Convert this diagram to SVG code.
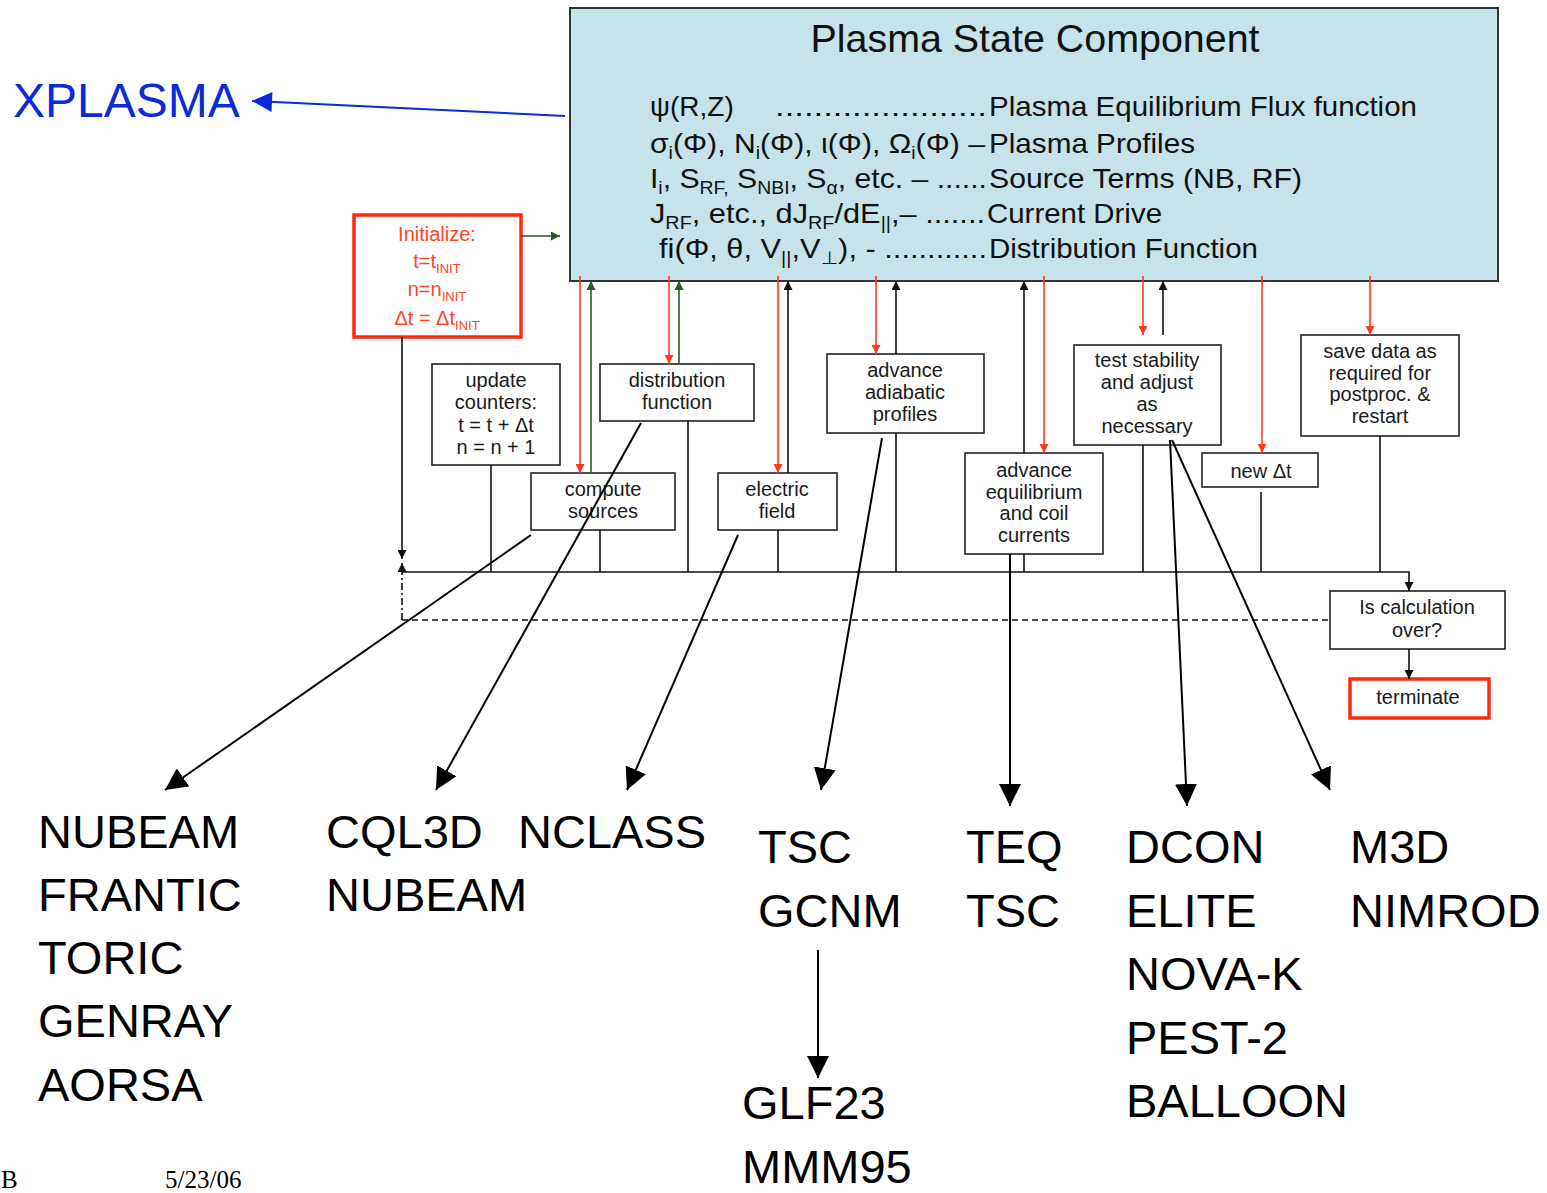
<svg xmlns="http://www.w3.org/2000/svg" width="1547" height="1193" viewBox="0 0 1547 1193">
<style>
.box{fill:#fff;stroke:#222;stroke-width:1.6}
.rbox{fill:#fff;stroke:#ff2a10;stroke-width:3.5}
.t{font-family:"Liberation Sans",Arial,sans-serif;font-size:20px;fill:#1a1a1a;text-anchor:middle}
.rt{font-family:"Liberation Sans",Arial,sans-serif;font-size:20px;fill:#ff4422;text-anchor:middle}
.m{font-family:"Liberation Sans",Arial,sans-serif;font-size:28px;fill:#111}
.title{font-family:"Liberation Sans",Arial,sans-serif;font-size:39px;fill:#111;text-anchor:middle}
.big{font-family:"Liberation Sans",Arial,sans-serif;font-size:47px;fill:#000}
.red{stroke:#ff3b1f;stroke-width:1.6;fill:none}
.grn{stroke:#1f5f1f;stroke-width:1.6;fill:none}
.blk{stroke:#111;stroke-width:1.6;fill:none}
.diag{stroke:#000;stroke-width:2;fill:none}
</style>
<defs>
<marker id="ar" viewBox="0 0 10 10" refX="10" refY="5" markerWidth="9" markerHeight="9" orient="auto" markerUnits="userSpaceOnUse"><path d="M0,0 L10,5 L0,10 z" fill="#ff3b1f"/></marker>
<marker id="ag" viewBox="0 0 10 10" refX="10" refY="5" markerWidth="9" markerHeight="9" orient="auto" markerUnits="userSpaceOnUse"><path d="M0,0 L10,5 L0,10 z" fill="#1f5f1f"/></marker>
<marker id="ab" viewBox="0 0 10 10" refX="10" refY="5" markerWidth="9" markerHeight="9" orient="auto" markerUnits="userSpaceOnUse"><path d="M0,0 L10,5 L0,10 z" fill="#111"/></marker>
<marker id="aL" viewBox="0 0 20 20" refX="20" refY="10" markerWidth="22" markerHeight="22" orient="auto" markerUnits="userSpaceOnUse"><path d="M0,0 L20,10 L0,20 z" fill="#000"/></marker>
<marker id="aB" viewBox="0 0 20 20" refX="20" refY="10" markerWidth="22" markerHeight="20" orient="auto" markerUnits="userSpaceOnUse"><path d="M0,0 L20,10 L0,20 z" fill="#0a2bd6"/></marker>
</defs>

<g id="plasma-state">
<rect x="570" y="8" width="928" height="273" fill="#c5e3e8" stroke="#333" stroke-width="2"/>
<text class="title" x="1035" y="52" textLength="449" lengthAdjust="spacingAndGlyphs">Plasma State Component</text>
<text class="m" x="650" y="116">ψ(R,Z)</text>
<text class="m" x="775" y="116" textLength="212" lengthAdjust="spacingAndGlyphs">......................</text>
<text class="m" x="989" y="116" textLength="428" lengthAdjust="spacingAndGlyphs">Plasma Equilibrium Flux function</text>
<text class="m" x="650" y="153" textLength="335" lengthAdjust="spacingAndGlyphs">σ<tspan font-size="18" dy="6">i</tspan><tspan dy="-6">(Φ), N</tspan><tspan font-size="18" dy="6">i</tspan><tspan dy="-6">(Φ), ι(Φ), Ω</tspan><tspan font-size="18" dy="6">i</tspan><tspan dy="-6">(Φ) –</tspan></text>
<text class="m" x="989" y="153" textLength="206" lengthAdjust="spacingAndGlyphs">Plasma Profiles</text>
<text class="m" x="650" y="188" textLength="337" lengthAdjust="spacingAndGlyphs">I<tspan font-size="18" dy="6">i</tspan><tspan dy="-6">, S</tspan><tspan font-size="18" dy="6">RF,</tspan><tspan dy="-6"> S</tspan><tspan font-size="18" dy="6">NBI</tspan><tspan dy="-6">, S</tspan><tspan font-size="18" dy="6">α</tspan><tspan dy="-6">, etc. – ......</tspan></text>
<text class="m" x="989" y="188" textLength="313" lengthAdjust="spacingAndGlyphs">Source Terms (NB, RF)</text>
<text class="m" x="650" y="223" textLength="335" lengthAdjust="spacingAndGlyphs">J<tspan font-size="18" dy="6">RF</tspan><tspan dy="-6">, etc., dJ</tspan><tspan font-size="18" dy="6">RF</tspan><tspan dy="-6">/dE</tspan><tspan font-size="18" dy="6">||</tspan><tspan dy="-6">,– .......</tspan></text>
<text class="m" x="987" y="223" textLength="175" lengthAdjust="spacingAndGlyphs">Current Drive</text>
<text class="m" x="659" y="258" textLength="328" lengthAdjust="spacingAndGlyphs">fi(Φ, θ, V<tspan font-size="18" dy="6">||</tspan><tspan dy="-6">,V</tspan><tspan font-size="18" dy="6">⊥</tspan><tspan dy="-6">), - ............</tspan></text>
<text class="m" x="989" y="258" textLength="269" lengthAdjust="spacingAndGlyphs">Distribution Function</text>
</g>

<g id="xplasma">
<text x="13" y="117" font-family="Liberation Sans, Arial, sans-serif" font-size="48" fill="#0a2bd6">XPLASMA</text>
</g>

<g id="initialize">
<rect class="rbox" x="354" y="215" width="167" height="122"/>
<text class="rt" x="437" y="241">Initialize:</text>
<text class="rt" x="437" y="268">t=t<tspan font-size="13" dy="5">INIT</tspan></text>
<text class="rt" x="437" y="296">n=n<tspan font-size="13" dy="5">INIT</tspan></text>
<text class="rt" x="437" y="325">Δt = Δt<tspan font-size="13" dy="5">INIT</tspan></text>
</g>

<g id="update-counters">
<rect class="box" x="432" y="364" width="128" height="101"/>
<text class="t" x="496" y="387">update</text>
<text class="t" x="496" y="409">counters:</text>
<text class="t" x="496" y="432">t = t + Δt</text>
<text class="t" x="496" y="454">n = n + 1</text>
</g>

<g id="distribution-function">
<rect class="box" x="600" y="364" width="154" height="57"/>
<text class="t" x="677" y="387">distribution</text>
<text class="t" x="677" y="409">function</text>
</g>

<g id="compute-sources">
<rect class="box" x="531" y="473" width="144" height="57"/>
<text class="t" x="603" y="496">compute</text>
<text class="t" x="603" y="518">sources</text>
</g>

<g id="electric-field">
<rect class="box" x="718" y="473" width="119" height="57"/>
<text class="t" x="777" y="496">electric</text>
<text class="t" x="777" y="518">field</text>
</g>

<g id="adiabatic">
<rect class="box" x="827" y="354" width="157" height="79"/>
<text class="t" x="905" y="377">advance</text>
<text class="t" x="905" y="399">adiabatic</text>
<text class="t" x="905" y="421">profiles</text>
</g>

<g id="equilibrium">
<rect class="box" x="965" y="453" width="138" height="101"/>
<text class="t" x="1034" y="477">advance</text>
<text class="t" x="1034" y="499">equilibrium</text>
<text class="t" x="1034" y="520">and coil</text>
<text class="t" x="1034" y="542">currents</text>
</g>

<g id="stability">
<rect class="box" x="1074" y="345" width="147" height="100"/>
<text class="t" x="1147" y="367">test stability</text>
<text class="t" x="1147" y="389">and adjust</text>
<text class="t" x="1147" y="411">as</text>
<text class="t" x="1147" y="433">necessary</text>
</g>

<g id="new-dt">
<rect class="box" x="1202" y="453" width="116" height="34"/>
<text class="t" x="1261" y="478">new Δt</text>
</g>

<g id="save-data">
<rect class="box" x="1301" y="335" width="158" height="101"/>
<text class="t" x="1380" y="358">save data as</text>
<text class="t" x="1380" y="380">required for</text>
<text class="t" x="1380" y="401">postproc. &amp;</text>
<text class="t" x="1380" y="423">restart</text>
</g>

<g id="calc-over">
<rect class="box" x="1330" y="591" width="175" height="58"/>
<text class="t" x="1417" y="614">Is calculation</text>
<text class="t" x="1417" y="637">over?</text>
</g>

<g id="terminate">
<rect class="rbox" x="1350" y="679" width="139" height="39"/>
<text class="t" x="1418" y="704">terminate</text>
</g>

<g id="codes">
<text class="big" x="38" y="848">NUBEAM</text>
<text class="big" x="38" y="911">FRANTIC</text>
<text class="big" x="38" y="974">TORIC</text>
<text class="big" x="38" y="1037">GENRAY</text>
<text class="big" x="38" y="1101">AORSA</text>
<text class="big" x="326" y="848">CQL3D</text>
<text class="big" x="326" y="911">NUBEAM</text>
<text class="big" x="518" y="848">NCLASS</text>
<text class="big" x="758" y="863">TSC</text>
<text class="big" x="758" y="927">GCNM</text>
<text class="big" x="742" y="1119">GLF23</text>
<text class="big" x="742" y="1183">MMM95</text>
<text class="big" x="966" y="863">TEQ</text>
<text class="big" x="966" y="927">TSC</text>
<text class="big" x="1126" y="863">DCON</text>
<text class="big" x="1126" y="927">ELITE</text>
<text class="big" x="1126" y="990">NOVA-K</text>
<text class="big" x="1126" y="1054">PEST-2</text>
<text class="big" x="1126" y="1117">BALLOON</text>
<text class="big" x="1350" y="863">M3D</text>
<text class="big" x="1350" y="927">NIMROD</text>
</g>

<g id="footer" font-family="Liberation Serif, Times New Roman, serif" font-size="25" fill="#000">
<text x="1" y="1188">B</text>
<text x="165" y="1188">5/23/06</text>
</g>

<g id="connectors">
<line x1="565" y1="116" x2="252" y2="101" stroke="#0a2bd6" stroke-width="2" marker-end="url(#aB)"/>
<line class="grn" x1="521" y1="236" x2="560" y2="236" marker-end="url(#ag)"/>
<line class="red" x1="580" y1="276" x2="580" y2="473" marker-end="url(#ar)"/>
<line class="grn" x1="591" y1="473" x2="591" y2="281" marker-end="url(#ag)"/>
<line class="red" x1="669" y1="276" x2="669" y2="364" marker-end="url(#ar)"/>
<line class="grn" x1="679" y1="364" x2="679" y2="281" marker-end="url(#ag)"/>
<line class="red" x1="778" y1="276" x2="778" y2="473" marker-end="url(#ar)"/>
<line class="blk" x1="788" y1="473" x2="788" y2="281" marker-end="url(#ab)"/>
<line class="red" x1="876" y1="276" x2="876" y2="354" marker-end="url(#ar)"/>
<line class="blk" x1="896" y1="354" x2="896" y2="281" marker-end="url(#ab)"/>
<line class="blk" x1="1024" y1="453" x2="1024" y2="281" marker-end="url(#ab)"/>
<line class="red" x1="1044" y1="276" x2="1044" y2="453" marker-end="url(#ar)"/>
<line class="red" x1="1143" y1="276" x2="1143" y2="335" marker-end="url(#ar)"/>
<line class="blk" x1="1163" y1="335" x2="1163" y2="281" marker-end="url(#ab)"/>
<line class="red" x1="1262" y1="276" x2="1262" y2="453" marker-end="url(#ar)"/>
<line class="red" x1="1370" y1="276" x2="1370" y2="335" marker-end="url(#ar)"/>
<polyline class="blk" points="402,572 1409,572 1409,591" marker-end="url(#ab)"/>
<line class="blk" x1="491" y1="465" x2="491" y2="572"/>
<line class="blk" x1="600" y1="530" x2="600" y2="572"/>
<line class="blk" x1="688" y1="421" x2="688" y2="572"/>
<line class="blk" x1="778" y1="530" x2="778" y2="572"/>
<line class="blk" x1="896" y1="433" x2="896" y2="572"/>
<line class="blk" x1="1024" y1="554" x2="1024" y2="572"/>
<line class="blk" x1="1143" y1="445" x2="1143" y2="572"/>
<line class="blk" x1="1261" y1="492" x2="1261" y2="572"/>
<line class="blk" x1="1380" y1="436" x2="1380" y2="572"/>
<line class="blk" x1="402" y1="337" x2="402" y2="559" marker-end="url(#ab)"/>
<line class="blk" x1="402" y1="620" x2="402" y2="563" stroke-dasharray="7,3,2,3" marker-end="url(#ab)"/>
<line class="blk" x1="402" y1="620" x2="1330" y2="620" stroke-dasharray="6,4"/>
<line class="blk" x1="1409" y1="649" x2="1409" y2="679" marker-end="url(#ab)"/>
<line class="diag" x1="531" y1="535" x2="165" y2="790" marker-end="url(#aL)"/>
<line class="diag" x1="641" y1="423" x2="436" y2="790" marker-end="url(#aL)"/>
<line class="diag" x1="738" y1="535" x2="627" y2="790" marker-end="url(#aL)"/>
<line class="diag" x1="882" y1="438" x2="821" y2="790" marker-end="url(#aL)"/>
<line class="diag" x1="1010" y1="554" x2="1010" y2="806" marker-end="url(#aL)"/>
<line class="diag" x1="1170" y1="440" x2="1187" y2="806" marker-end="url(#aL)"/>
<line class="diag" x1="1172" y1="440" x2="1330" y2="790" marker-end="url(#aL)"/>
<line class="diag" x1="818" y1="950" x2="818" y2="1078" marker-end="url(#aL)"/>
</g>
</svg>
